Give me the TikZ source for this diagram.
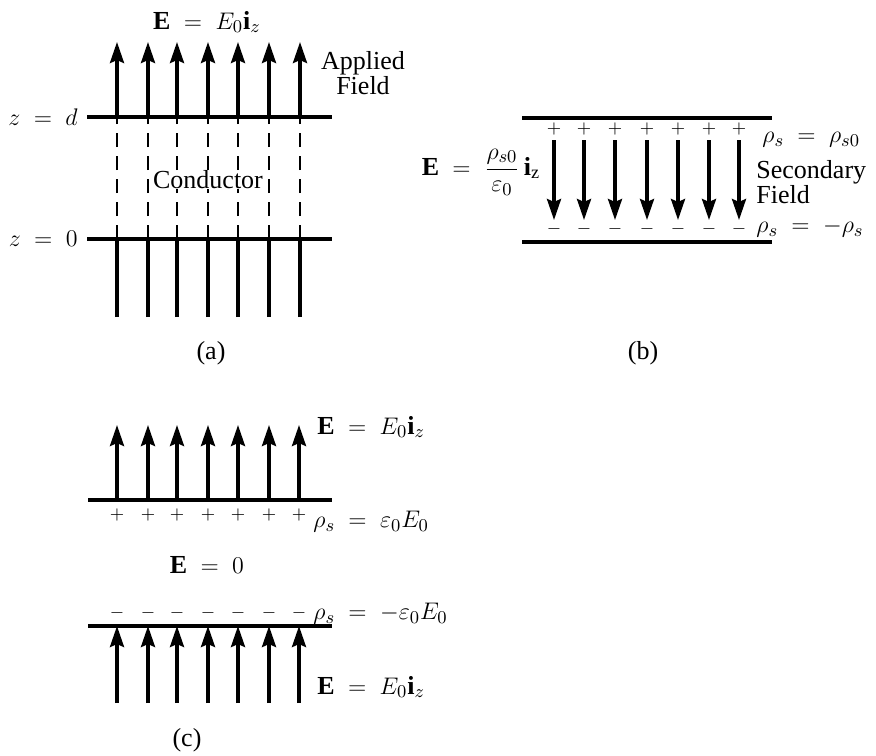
\documentclass[tikz,border=0pt]{standalone}
\usepackage{fontspec}
\setmainfont{Liberation Serif}
\usetikzlibrary{arrows.meta}
\begin{document}
\begin{tikzpicture}[x=0.5pt,y=-0.5pt,
  plate/.style={line width=2pt},
  fieldline/.style={line width=1.7pt},
  fieldarrow/.style={line width=1.7pt,-{Stealth[length=10.5pt,width=7pt,inset=1.5pt]}},
  inside/.style={line width=1.1pt,dash pattern=on 7pt off 4.5pt},
  lbl/.style={font=\fontsize{13}{15.5}\selectfont, inner sep=1pt},
  chg/.style={font=\fontsize{9}{10}\selectfont, inner sep=0pt},
]
\useasboundingbox (0,0) rectangle (876,755);

% ---------- (a) ----------
\draw[plate] (87,117) -- (332,117);
\draw[plate] (87,239) -- (332,239);
\foreach \x in {117,148,177,208,238,269,300}{
  \draw[fieldline] (\x,317) -- (\x,239);
  \draw[inside] (\x,239) -- (\x,117);
  \draw[fieldarrow] (\x,117) -- (\x,42);
}
\node[lbl] (Ea) at (207,22) {$\mathbf{E} \;=\; E_0\mathbf{i}_z$};
\node[lbl,align=center] (applied) at (363,73) {Applied\\[-3pt]Field};
\node[lbl,anchor=east] (zd) at (80,117) {$z \;=\; d$};
\node[lbl,anchor=east] (z0) at (80,239) {$z \;=\; 0$};
\node[lbl,fill=white,inner sep=0pt] (cond) at (208,180) {Conductor};
\node[lbl] (a) at (211,353) {(a)};

% ---------- (b) ----------
\draw[plate] (522,118) -- (772,118);
\draw[plate] (522,242) -- (772,242);
\foreach \x in {554,584,615,647,678,709,739}{
  \node[chg] at (\x,129) {$+$};
  \node[chg] at (\x,229) {$-$};
  \draw[fieldarrow] (\x,140) -- (\x,220);
}
\node[lbl] (Eb) at (481,172) {$\mathbf{E} \;=\; {\displaystyle\frac{\rho_{s0}}{\varepsilon_0}}\,\mathbf{i}_{\mathrm{z}}$};
\node[lbl,anchor=west] (rtop) at (760,140) {$\rho_s \;=\; \rho_{s0}$};
\node[lbl,anchor=west,align=left] (sec) at (754,182) {Secondary\\[-3pt]Field};
\node[lbl,anchor=west] (rbot) at (754,228) {$\rho_s \;=\; -\rho_s$};
\node[lbl] (b) at (643,353) {(b)};

% ---------- (c) ----------
\draw[plate] (88,500) -- (332,500);
\draw[plate] (88,626) -- (332,626);
\foreach \x in {117,148,177,208,238,269,299}{
  \draw[fieldarrow] (\x,500) -- (\x,425);
  \node[chg] at (\x,515) {$+$};
  \node[chg] at (\x,613) {$-$};
  \draw[fieldarrow] (\x,703) -- (\x,626);
}
\node[lbl,anchor=west] (Ec1) at (315,427) {$\mathbf{E} \;=\; E_0\mathbf{i}_z$};
\node[lbl,anchor=west] (rc1) at (311,522) {$\rho_s \;=\; \varepsilon_0 E_0$};
\node[lbl] (E0) at (207,565) {$\mathbf{E} \;=\; 0$};
\node[lbl,anchor=west] (rc2) at (311,614) {$\rho_s \;=\; -\varepsilon_0 E_0$};
\node[lbl,anchor=west] (Ec2) at (315,687) {$\mathbf{E} \;=\; E_0\mathbf{i}_z$};
\node[lbl] (c) at (187,740) {(c)};
\end{tikzpicture}
\end{document}
